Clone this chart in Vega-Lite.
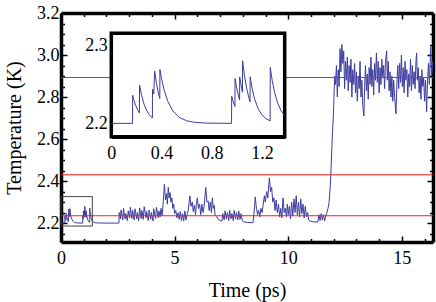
{
  "$schema": "https://vega.github.io/schema/vega-lite/v6.json",
  "width": 372,
  "height": 229,
  "autosize": "none",
  "padding": {"left": 61, "top": 13, "right": 3, "bottom": 60},
  "background": "white",
  "config": {
    "view": {"stroke": null},
    "axis": {
      "grid": false,
      "labelFont": "Liberation Serif",
      "labelFontSize": 18,
      "labelColor": "black",
      "titleFont": "Liberation Serif",
      "titleFontSize": 20,
      "titleFontWeight": "normal",
      "titleColor": "black",
      "domainColor": "black",
      "domainWidth": 3.5,
      "tickColor": "black",
      "tickWidth": 1.5,
      "labelFlush": false,
      "labelOverlap": false,
      "zindex": 1
    }
  },
  "datasets": {
    "series": [
      {"time":0,"temp":2.2},{"time":0.169,"temp":2.2},{"time":0.17,"temp":2.2359},{"time":0.18,"temp":2.2294},{"time":0.195,"temp":2.2224},{"time":0.21,"temp":2.217},{"time":0.224,"temp":2.2132},{"time":0.225,"temp":2.2487},{"time":0.24,"temp":2.2365},{"time":0.26,"temp":2.2248},{"time":0.28,"temp":2.2169},{"time":0.30,"temp":2.2115},{"time":0.327,"temp":2.2068},{"time":0.328,"temp":2.2436},{"time":0.338,"temp":2.2375},{"time":0.345,"temp":2.2667},{"time":0.36,"temp":2.2508},{"time":0.375,"temp":2.2387},{"time":0.386,"temp":2.2317},{"time":0.387,"temp":2.2688},{"time":0.40,"temp":2.2571},{"time":0.42,"temp":2.2429},{"time":0.45,"temp":2.228},{"time":0.49,"temp":2.2158},{"time":0.54,"temp":2.2077},{"time":0.60,"temp":2.2033},{"time":0.66,"temp":2.2014},{"time":0.75,"temp":2.2004},{"time":0.957,"temp":2.2},{"time":0.958,"temp":2.2346},{"time":0.97,"temp":2.2278},{"time":0.984,"temp":2.2216},{"time":0.985,"temp":2.2573},{"time":0.995,"temp":2.2478},{"time":1.008,"temp":2.2377},{"time":1.021,"temp":2.2298},{"time":1.022,"temp":2.2594},{"time":1.033,"temp":2.2486},{"time":1.044,"temp":2.2398},{"time":1.045,"temp":2.2799},{"time":1.06,"temp":2.2608},{"time":1.08,"temp":2.2423},{"time":1.104,"temp":2.2273},{"time":1.105,"temp":2.2594},{"time":1.12,"temp":2.2452},{"time":1.14,"temp":2.2314},{"time":1.17,"temp":2.2182},{"time":1.2,"temp":2.2106},{"time":1.23,"temp":2.2061},{"time":1.264,"temp":2.2033},{"time":1.265,"temp":2.2714},{"time":1.28,"temp":2.2551},{"time":1.30,"temp":2.2391},{"time":1.325,"temp":2.2254},{"time":1.35,"temp":2.2166},{"time":1.38,"temp":2.2099},{"time":1.42,"temp":2.2055},{"time":1.48,"temp":2.2025},{"time":1.6,"temp":2.2006},{"time":2.0,"temp":2.2},{"time":2.55,"temp":2.2},
      {"time":2.56,"temp":2.25},{"time":2.62,"temp":2.22},{"time":2.64,"temp":2.262},{"time":2.72,"temp":2.215},{"time":2.75,"temp":2.27},{"time":2.82,"temp":2.22},{"time":2.85,"temp":2.245},{"time":2.92,"temp":2.212},{"time":2.96,"temp":2.258},{"time":3.02,"temp":2.225},{"time":3.05,"temp":2.275},{"time":3.12,"temp":2.222},{"time":3.15,"temp":2.262},{"time":3.22,"temp":2.215},{"time":3.26,"temp":2.268},{"time":3.33,"temp":2.22},{"time":3.36,"temp":2.25},{"time":3.42,"temp":2.212},{"time":3.46,"temp":2.272},{"time":3.53,"temp":2.222},{"time":3.56,"temp":2.26},{"time":3.62,"temp":2.218},{"time":3.66,"temp":2.278},{"time":3.74,"temp":2.225},{"time":3.77,"temp":2.255},{"time":3.84,"temp":2.212},{"time":3.88,"temp":2.262},{"time":3.95,"temp":2.218},{"time":3.98,"temp":2.25},{"time":4.05,"temp":2.21},{"time":4.08,"temp":2.268},{"time":4.16,"temp":2.222},{"time":4.2,"temp":2.275},{"time":4.28,"temp":2.225},{"time":4.31,"temp":2.258},{"time":4.36,"temp":2.23},
      {"time":4.4,"temp":2.27},{"time":4.45,"temp":2.235},{"time":4.5,"temp":2.3},{"time":4.55,"temp":2.385},{"time":4.6,"temp":2.31},{"time":4.64,"temp":2.34},{"time":4.68,"temp":2.29},{"time":4.72,"temp":2.37},{"time":4.76,"temp":2.32},{"time":4.8,"temp":2.345},{"time":4.84,"temp":2.3},{"time":4.88,"temp":2.32},{"time":4.92,"temp":2.27},{"time":4.96,"temp":2.29},{"time":5.0,"temp":2.245},{"time":5.05,"temp":2.26},{"time":5.1,"temp":2.225},
      {"time":5.15,"temp":2.25},{"time":5.2,"temp":2.218},{"time":5.25,"temp":2.255},{"time":5.3,"temp":2.212},{"time":5.35,"temp":2.245},{"time":5.4,"temp":2.21},{"time":5.45,"temp":2.258},{"time":5.5,"temp":2.215},{"time":5.55,"temp":2.24},
      {"time":5.6,"temp":2.262},{"time":5.67,"temp":2.33},{"time":5.72,"temp":2.28},{"time":5.78,"temp":2.3},{"time":5.82,"temp":2.255},{"time":5.87,"temp":2.285},{"time":5.92,"temp":2.24},{"time":5.96,"temp":2.295},{"time":6.0,"temp":2.32},{"time":6.05,"temp":2.27},{"time":6.1,"temp":2.29},{"time":6.15,"temp":2.24},{"time":6.2,"temp":2.29},{"time":6.25,"temp":2.25},{"time":6.3,"temp":2.28},{"time":6.37,"temp":2.37},{"time":6.42,"temp":2.3},{"time":6.48,"temp":2.305},{"time":6.52,"temp":2.26},{"time":6.57,"temp":2.3},{"time":6.62,"temp":2.25},{"time":6.66,"temp":2.32},{"time":6.7,"temp":2.27},{"time":6.74,"temp":2.285},{"time":6.78,"temp":2.24},
      {"time":6.85,"temp":2.23},{"time":6.92,"temp":2.218},{"time":7.0,"temp":2.212},{"time":7.08,"temp":2.21},
      {"time":7.12,"temp":2.245},{"time":7.18,"temp":2.215},{"time":7.22,"temp":2.258},{"time":7.28,"temp":2.22},{"time":7.32,"temp":2.25},{"time":7.38,"temp":2.212},{"time":7.42,"temp":2.262},{"time":7.48,"temp":2.22},{"time":7.52,"temp":2.245},{"time":7.58,"temp":2.212},{"time":7.62,"temp":2.26},{"time":7.68,"temp":2.22},{"time":7.72,"temp":2.25},{"time":7.78,"temp":2.215},{"time":7.82,"temp":2.258},{"time":7.88,"temp":2.218},{"time":7.92,"temp":2.245},{"time":7.98,"temp":2.212},
      {"time":8.05,"temp":2.206},{"time":8.2,"temp":2.203},{"time":8.45,"temp":2.202},
      {"time":8.52,"temp":2.28},{"time":8.55,"temp":2.325},{"time":8.6,"temp":2.27},{"time":8.65,"temp":2.24},{"time":8.7,"temp":2.26},{"time":8.75,"temp":2.23},{"time":8.8,"temp":2.27},{"time":8.85,"temp":2.25},{"time":8.9,"temp":2.29},{"time":8.95,"temp":2.33},{"time":8.99,"temp":2.3},{"time":9.05,"temp":2.35},{"time":9.1,"temp":2.32},{"time":9.17,"temp":2.415},{"time":9.22,"temp":2.35},{"time":9.27,"temp":2.37},{"time":9.32,"temp":2.3},{"time":9.37,"temp":2.32},{"time":9.42,"temp":2.26},{"time":9.47,"temp":2.31},{"time":9.52,"temp":2.25},{"time":9.57,"temp":2.29},{"time":9.62,"temp":2.23},{"time":9.67,"temp":2.27},{"time":9.72,"temp":2.225},{"time":9.77,"temp":2.32},{"time":9.82,"temp":2.25},{"time":9.87,"temp":2.27},
      {"time":9.92,"temp":2.23},{"time":9.96,"temp":2.29},{"time":10.0,"temp":2.24},{"time":10.05,"temp":2.28},{"time":10.1,"temp":2.22},{"time":10.15,"temp":2.3},{"time":10.2,"temp":2.235},{"time":10.25,"temp":2.315},{"time":10.3,"temp":2.25},{"time":10.35,"temp":2.33},{"time":10.4,"temp":2.24},{"time":10.45,"temp":2.3},{"time":10.5,"temp":2.23},{"time":10.55,"temp":2.315},{"time":10.6,"temp":2.245},{"time":10.65,"temp":2.29},{"time":10.7,"temp":2.225},{"time":10.75,"temp":2.28},{"time":10.8,"temp":2.23},{"time":10.85,"temp":2.25},{"time":10.9,"temp":2.215},
      {"time":10.95,"temp":2.21},{"time":11.1,"temp":2.206},{"time":11.3,"temp":2.205},
      {"time":11.35,"temp":2.24},{"time":11.4,"temp":2.212},{"time":11.45,"temp":2.245},{"time":11.5,"temp":2.215},{"time":11.55,"temp":2.24},{"time":11.6,"temp":2.21},{"time":11.65,"temp":2.235},{"time":11.7,"temp":2.25},{"time":11.75,"temp":2.27},{"time":11.8,"temp":2.3},
      {"time":11.85,"temp":2.38},{"time":11.88,"temp":2.45},{"time":11.92,"temp":2.56},{"time":11.95,"temp":2.64},{"time":11.98,"temp":2.7},{"time":12.0,"temp":2.76},{"time":12.02,"temp":2.83},{"time":12.05,"temp":2.9},
      {"time":12.08,"temp":2.86},{"time":12.12,"temp":2.95},{"time":12.16,"temp":2.8},{"time":12.2,"temp":2.93},{"time":12.24,"temp":2.85},{"time":12.28,"temp":3.03},{"time":12.32,"temp":2.92},{"time":12.36,"temp":3.05},{"time":12.4,"temp":2.96},{"time":12.44,"temp":3.02},{"time":12.48,"temp":2.84},{"time":12.52,"temp":2.97},{"time":12.56,"temp":2.88},{"time":12.6,"temp":2.99},{"time":12.64,"temp":2.83},{"time":12.68,"temp":2.95},{"time":12.72,"temp":2.87},{"time":12.76,"temp":2.98},{"time":12.8,"temp":2.8},{"time":12.84,"temp":2.93},{"time":12.88,"temp":2.86},{"time":12.92,"temp":2.96},{"time":12.96,"temp":2.82},{"time":13.0,"temp":2.92},{"time":13.04,"temp":2.78},{"time":13.08,"temp":2.9},{"time":13.12,"temp":2.84},{"time":13.16,"temp":2.97},{"time":13.2,"temp":2.8},{"time":13.24,"temp":2.88},{"time":13.28,"temp":2.76},{"time":13.33,"temp":2.71},{"time":13.36,"temp":2.85},{"time":13.4,"temp":2.95},{"time":13.44,"temp":2.83},{"time":13.48,"temp":2.91},{"time":13.52,"temp":2.79},{"time":13.56,"temp":2.94},{"time":13.6,"temp":2.86},{"time":13.64,"temp":2.99},{"time":13.68,"temp":2.85},{"time":13.72,"temp":2.93},{"time":13.76,"temp":2.81},{"time":13.8,"temp":2.96},{"time":13.84,"temp":2.88},{"time":13.88,"temp":3.01},{"time":13.92,"temp":2.87},{"time":13.96,"temp":2.97},{"time":14.0,"temp":2.82},{"time":14.04,"temp":2.94},{"time":14.08,"temp":2.86},{"time":14.12,"temp":2.98},{"time":14.16,"temp":2.89},{"time":14.2,"temp":2.95},{"time":14.24,"temp":2.84},{"time":14.28,"temp":2.97},{"time":14.33,"temp":3.02},{"time":14.36,"temp":2.88},{"time":14.4,"temp":2.97},{"time":14.44,"temp":2.83},{"time":14.48,"temp":2.92},{"time":14.52,"temp":2.8},{"time":14.56,"temp":2.9},{"time":14.6,"temp":2.78},{"time":14.64,"temp":2.88},{"time":14.68,"temp":2.8},{"time":14.74,"temp":2.72},{"time":14.78,"temp":2.86},{"time":14.82,"temp":2.95},{"time":14.86,"temp":2.84},{"time":14.9,"temp":2.96},{"time":14.94,"temp":2.87},{"time":14.98,"temp":3.0},{"time":15.02,"temp":2.85},{"time":15.06,"temp":2.94},{"time":15.1,"temp":2.82},{"time":15.14,"temp":2.97},{"time":15.18,"temp":2.88},{"time":15.22,"temp":2.93},{"time":15.26,"temp":2.8},{"time":15.3,"temp":2.91},{"time":15.34,"temp":2.85},{"time":15.38,"temp":2.98},{"time":15.42,"temp":2.83},{"time":15.46,"temp":2.95},{"time":15.5,"temp":2.86},{"time":15.54,"temp":2.92},{"time":15.58,"temp":2.84},{"time":15.62,"temp":2.97},{"time":15.65,"temp":3.01},{"time":15.68,"temp":2.88},{"time":15.72,"temp":2.94},{"time":15.76,"temp":2.82},{"time":15.8,"temp":2.9},{"time":15.84,"temp":2.79},{"time":15.88,"temp":2.93},{"time":15.92,"temp":2.85},{"time":15.96,"temp":2.89},{"time":16.0,"temp":2.78},{"time":16.04,"temp":2.88},{"time":16.09,"temp":2.73},{"time":16.13,"temp":2.88},{"time":16.17,"temp":2.96},{"time":16.21,"temp":2.86},{"time":16.27,"temp":3.04},{"time":16.31,"temp":2.9},{"time":16.35,"temp":2.97},{"time":16.4,"temp":2.88}
    ],
    "levels": [{"level": 2.235}, {"level": 2.43}, {"level": 2.893}],
    "zoombox": [{"x0": 0, "x1": 1.38, "y0": 2.186, "y1": 2.326}],
    "insetframe": [{"x0": 0, "x1": 1.38, "y0": 2.183, "y1": 2.315}]
  },
  "layer": [
    {
      "layer": [
        {
          "data": {"name": "series"},
          "mark": {"type": "line", "color": "#3c3ca0", "strokeWidth": 1, "clip": true},
          "encoding": {
            "x": {
              "field": "time", "type": "quantitative",
              "scale": {"domain": [0, 16.37], "nice": false, "zero": false},
              "axis": {
                "orient": "bottom",
                "title": "Time (ps)",
                "titlePadding": 11,
                "values": [0,1,2,3,4,5,6,7,8,9,10,11,12,13,14,15,16],
                "labelExpr": "datum.value % 5 === 0 ? datum.label : ''",
                "tickSize": {"condition": {"test": "datum.value % 5 === 0", "value": -6}, "value": -3.5},
                "labelPadding": 13
              }
            },
            "y": {
              "field": "temp", "type": "quantitative",
              "scale": {"domain": [2.11, 3.2], "nice": false, "zero": false},
              "axis": {
                "orient": "left",
                "title": "Temperature (K)",
                "titlePadding": 12,
                "values": [2.15,2.2,2.25,2.3,2.35,2.4,2.45,2.5,2.55,2.6,2.65,2.7,2.75,2.8,2.85,2.9,2.95,3.0,3.05,3.1,3.15,3.2],
                "labelExpr": "abs(datum.value*5 - round(datum.value*5)) < 0.001 ? format(datum.value, '.1f') : ''",
                "tickSize": {"condition": {"test": "abs(datum.value*5 - round(datum.value*5)) < 0.001", "value": -6}, "value": -3.5},
                "labelPadding": 8
              }
            },
            "order": {"field": "time", "type": "quantitative"}
          }
        },
        {
          "data": {"name": "levels"},
          "mark": {"type": "rule", "color": "#ff1a1a", "strokeWidth": 1},
          "encoding": {"y": {"field": "level", "type": "quantitative", "axis": null}}
        },
        {
          "data": {"name": "zoombox"},
          "mark": {"type": "rect", "filled": false, "color": "#444444", "strokeWidth": 1},
          "encoding": {
            "x": {
              "field": "x0", "type": "quantitative",
              "axis": {
                "orient": "top", "title": null, "labels": false,
                "values": [0,1,2,3,4,5,6,7,8,9,10,11,12,13,14,15,16],
                "tickSize": {"condition": {"test": "datum.value % 5 === 0", "value": -6}, "value": -3.5}
              }
            },
            "x2": {"field": "x1"},
            "y": {
              "field": "y0", "type": "quantitative",
              "axis": {
                "orient": "right", "title": null, "labels": false,
                "values": [2.15,2.2,2.25,2.3,2.35,2.4,2.45,2.5,2.55,2.6,2.65,2.7,2.75,2.8,2.85,2.9,2.95,3.0,3.05,3.1,3.15,3.2],
                "tickSize": {"condition": {"test": "abs(datum.value*5 - round(datum.value*5)) < 0.001", "value": -6}, "value": -3.5}
              }
            },
            "y2": {"field": "y1"}
          }
        }
      ],
      "resolve": {"axis": {"x": "independent", "y": "independent"}}
    },
    {
      "layer": [
        {
          "data": {"name": "insetframe"},
          "mark": {"type": "rect", "fill": "white", "stroke": "black", "strokeWidth": 3.5},
          "encoding": {
            "x": {
              "field": "x0", "type": "quantitative",
              "scale": {"domain": [0, 1.38], "range": [50.3, 223.7], "nice": false, "zero": false},
              "axis": {
                "orient": "bottom", "offset": -105.3, "title": null,
                "values": [0, 0.4, 0.8, 1.2],
                "labelExpr": "datum.value === 0 ? '0' : format(datum.value, '.1f')",
                "tickSize": -4, "labelPadding": 12
              }
            },
            "x2": {"field": "x1"},
            "y": {
              "field": "y0", "type": "quantitative",
              "scale": {"domain": [2.183, 2.315], "range": [123.7, 20.3], "nice": false, "zero": false},
              "axis": {
                "orient": "left", "offset": -50.3, "title": null,
                "values": [2.2, 2.3],
                "format": ".1f",
                "tickSize": -4, "labelPadding": 8
              }
            },
            "y2": {"field": "y1"}
          }
        },
        {
          "data": {"name": "series"},
          "transform": [{"filter": "datum.time <= 1.38"}],
          "mark": {"type": "line", "color": "#3c3ca0", "strokeWidth": 1},
          "encoding": {
            "x": {"field": "time", "type": "quantitative"},
            "y": {"field": "temp", "type": "quantitative"},
            "order": {"field": "time", "type": "quantitative"}
          }
        }
      ]
    }
  ],
  "resolve": {"scale": {"x": "independent", "y": "independent"}}
}
